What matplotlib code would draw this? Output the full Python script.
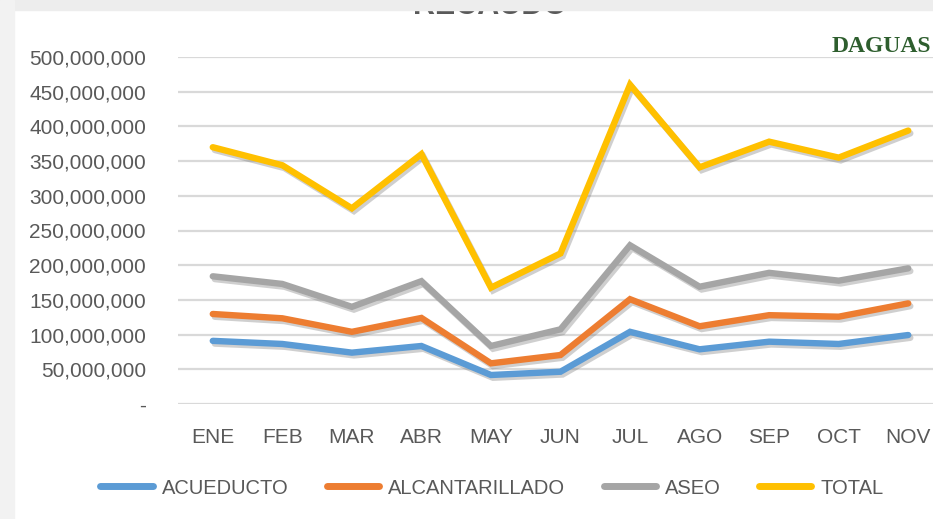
import matplotlib.pyplot as plt
import matplotlib.patheffects as pe
from matplotlib.patches import Rectangle
from matplotlib.ticker import FuncFormatter

plt.rcParams['font.family'] = ['Liberation Sans', 'DejaVu Sans']

# Recaudo mensual (pesos)
meses = ['ENE', 'FEB', 'MAR', 'ABR', 'MAY', 'JUN', 'JUL', 'AGO', 'SEP', 'OCT', 'NOV']
acueducto = [91e6, 86.5e6, 74e6, 83.6e6, 41.8e6, 46.5e6, 104e6, 78.8e6, 89.8e6, 86.5e6, 99.4e6]
alcantarillado = [129.7e6, 123.5e6, 104e6, 124e6, 58.6e6, 70.6e6, 151e6, 112e6, 128e6, 125.8e6, 145e6]
aseo = [184e6, 173e6, 140e6, 177e6, 83.6e6, 107.6e6, 228.7e6, 169e6, 189e6, 177.7e6, 195.5e6]
total = [370e6, 344e6, 282e6, 360e6, 167.6e6, 217e6, 460e6, 341e6, 378e6, 355e6, 394e6]

series = [('ACUEDUCTO', acueducto, '#5B9BD5'),
          ('ALCANTARILLADO', alcantarillado, '#ED7D31'),
          ('ASEO', aseo, '#A5A5A5'),
          ('TOTAL', total, '#FFC000')]

W, H = 933, 519
fig = plt.figure(figsize=(W / 100, H / 100), dpi=100)

# axes: plot area from x=178 to 943 px, y=57 to 404 px
ax = fig.add_axes([178 / W, (H - 404) / H, 765 / W, (404 - 57) / H])

shadow = [pe.SimpleLineShadow(offset=(1.5, -2), shadow_color='#777777', alpha=0.35), pe.Normal()]
x = range(len(meses))
for name, vals, col in series:
    ax.plot(x, vals, color=col, lw=4.6, label=name, solid_capstyle='round',
            solid_joinstyle='miter', path_effects=shadow, zorder=3)

ax.set_xlim(-0.5, len(meses) - 0.5)
ax.set_ylim(0, 500e6)
ax.set_yticks(range(0, 500_000_001, 50_000_000))
ax.yaxis.set_major_formatter(FuncFormatter(lambda v, p: '-' if v == 0 else f'{int(v):,}'))
ax.set_xticks(list(x))
ax.set_xticklabels(meses)
ax.grid(axis='y', color='#D9D9D9', lw=1.6, zorder=0)
for s in ax.spines.values():
    s.set_visible(False)
ax.tick_params(length=0, labelsize=15, labelcolor='#595959')
ax.tick_params(axis='y', pad=23)
ax.tick_params(axis='x', pad=17)

leg = fig.legend(loc='center', bbox_to_anchor=(492 / W, (H - 488) / H), ncol=4, frameon=False,
                 fontsize=14.5, handlelength=2.6, handletextpad=0.45, columnspacing=1.9)
for t in leg.get_texts():
    t.set_color('#595959')
for h in leg.get_lines():
    h.set_linewidth(5)
    h.set_solid_capstyle('round')
    h.set_path_effects([])

# title, mostly cut off by the frame edge (as in the original)
fig.text(490 / W, (H - 14) / H, 'RECAUDO', ha='center', va='baseline', fontsize=22,
         fontweight='bold', color='#595959')

# gray frame shadow at top and left
fig.add_artist(Rectangle((0, (H - 10) / H), 1, 10 / H, transform=fig.transFigure,
                         color='#EDEDED', zorder=10))
fig.add_artist(Rectangle((0, 0), 14 / W, 1, transform=fig.transFigure,
                         color='#F2F2F2', zorder=10))

# logo
fig.text(832 / W, (H - 52) / H, 'DAGUAS', ha='left', va='baseline', fontsize=17,
         fontweight='bold', color='#2E5E2E', family='Liberation Serif')

fig.savefig('out.png', dpi=100)
